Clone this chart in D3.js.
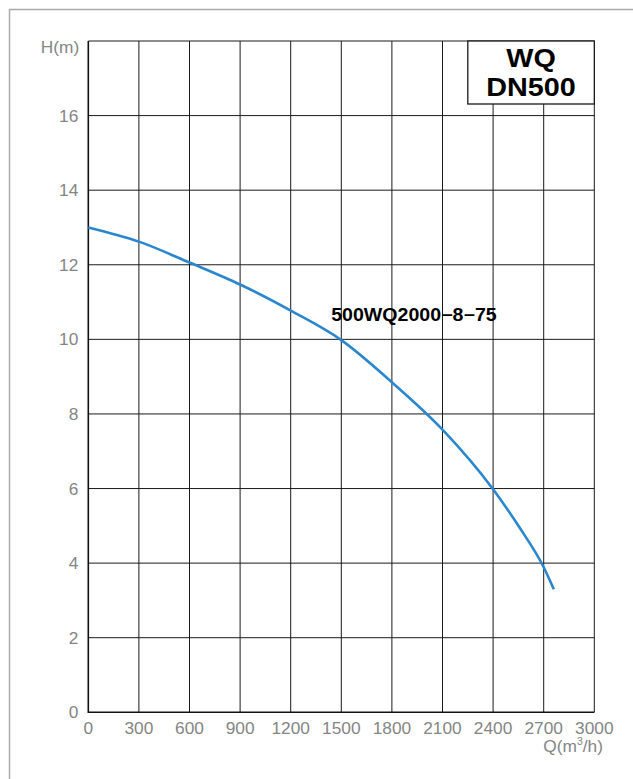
<!DOCTYPE html>
<html>

<head>
    <meta charset="UTF-8">
    <title>WQ DN500 pump curve</title>
    <script src="https://d3js.org/d3.v7.min.js"></script>
    <style>
        body {
            margin: 0;
            background: #fff;
        }

        text {
            font-family: "Liberation Sans", Arial, sans-serif;
        }

        .tick-label {
            font-size: 16.5px;
            fill: #858585;
        }

        .grid-line {
            stroke: #1a1a1a;
            stroke-width: 1;
        }
    </style>
</head>

<body>

    <script>
        var width = 633;
        var height = 779;

        // Q (m3/h) and H (m)
        var flow = [0, 300, 600, 900, 1200, 1500, 1800, 2100, 2400, 2550, 2700, 2760];
        var head = [13.0, 12.62, 12.06, 11.47, 10.77, 9.98, 8.85, 7.58, 5.98, 5.0, 3.89, 3.3];

        var xTicks = [0, 300, 600, 900, 1200, 1500, 1800, 2100, 2400, 2700, 3000];
        var yTicks = [0, 2, 4, 6, 8, 10, 12, 14, 16];
        var yGrid = [2, 4, 6, 8, 10, 12, 14, 16, 18];

        var modelName = "500WQ2000\u22128\u221275";
        var titleLines = ["WQ", "DN500"];

        var plotL = 88.3, plotR = 594.3, plotT = 41, plotB = 712.3;
        var sx = 1.05; // text looks slightly stretched horizontally

        var svg = d3.select("body").append("svg")
            .attr("width", width)
            .attr("height", height);

        // outer frame (only left & top visible)
        svg.append("path")
            .attr("d", "M9.5," + height + "V9.5H" + width)
            .attr("fill", "none")
            .attr("stroke", "#aaa")
            .attr("stroke-width", 1.5);

        var x = d3.scaleLinear().domain([0, 3000]).range([plotL, plotR]);
        var y = d3.scaleLinear().domain([0, 18]).range([plotB, plotT]);

        // grid
        svg.append("g").selectAll("line")
            .data(xTicks.slice(1))
            .enter().append("line")
            .attr("class", "grid-line")
            .attr("x1", function (d) { return x(d); })
            .attr("x2", function (d) { return x(d); })
            .attr("y1", plotT)
            .attr("y2", plotB);

        svg.append("g").selectAll("line")
            .data(yGrid)
            .enter().append("line")
            .attr("class", "grid-line")
            .attr("x1", plotL)
            .attr("x2", plotR)
            .attr("y1", function (d) { return y(d); })
            .attr("y2", function (d) { return y(d); });

        // axes lines
        svg.append("path")
            .attr("d", "M" + plotL + "," + plotT + "V" + plotB + "H" + plotR)
            .attr("fill", "none")
            .attr("stroke", "#111")
            .attr("stroke-width", 1.6);

        // tick labels
        svg.append("g").selectAll("text")
            .data(yTicks)
            .enter().append("text")
            .attr("class", "tick-label")
            .attr("text-anchor", "end")
            .attr("transform", function (d) { return "translate(" + (plotL - 10) + "," + (y(d) + 6) + ") scale(" + sx + ",1)"; })
            .text(function (d) { return d; });

        svg.append("g").selectAll("text")
            .data(xTicks)
            .enter().append("text")
            .attr("class", "tick-label")
            .attr("text-anchor", "middle")
            .attr("transform", function (d) { return "translate(" + x(d) + "," + (plotB + 21.5) + ") scale(" + sx + ",1)"; })
            .text(function (d) { return d; });

        svg.append("text")
            .attr("class", "tick-label")
            .attr("text-anchor", "end")
            .attr("transform", "translate(" + (plotL - 9) + ",53) scale(" + sx + ",1)")
            .text("H(m)");

        var ql = svg.append("text")
            .attr("class", "tick-label")
            .attr("text-anchor", "end")
            .attr("transform", "translate(603," + (plotB + 40) + ") scale(" + sx + ",1)");
        ql.append("tspan").text("Q(m");
        ql.append("tspan").attr("dy", -7).style("font-size", "10px").text("3");
        ql.append("tspan").attr("dy", 7).text("/h)");

        // title box
        var boxL = x(2250), boxB = 104;
        svg.append("rect")
            .attr("x", boxL)
            .attr("y", plotT)
            .attr("width", plotR - boxL)
            .attr("height", boxB - plotT)
            .attr("fill", "#fff")
            .attr("stroke", "#1a1a1a")
            .attr("stroke-width", 1.3);

        svg.append("g").selectAll("text")
            .data(titleLines)
            .enter().append("text")
            .attr("text-anchor", "middle")
            .attr("transform", function (d, i) { return "translate(" + ((boxL + plotR) / 2) + "," + (67 + i * 28.5) + ") scale(1.15,1)"; })
            .style("font-size", "25px")
            .style("font-weight", "bold")
            .attr("fill", "#000")
            .text(function (d) { return d; });

        // curve
        var line = d3.line()
            .x(function (d) { return x(d[0]); })
            .y(function (d) { return y(d[1]); })
            .curve(d3.curveMonotoneX);

        svg.append("path")
            .datum(d3.zip(flow, head))
            .attr("d", line)
            .attr("fill", "none")
            .attr("stroke", "#2a86cf")
            .attr("stroke-width", 2.6);

        svg.append("text")
            .attr("transform", "translate(" + x(1440) + "," + y(10.5) + ") scale(1.12,1)")
            .style("font-size", "17.5px")
            .style("font-weight", "bold")
            .attr("fill", "#000")
            .text(modelName);

    </script>
</body>

</html>
